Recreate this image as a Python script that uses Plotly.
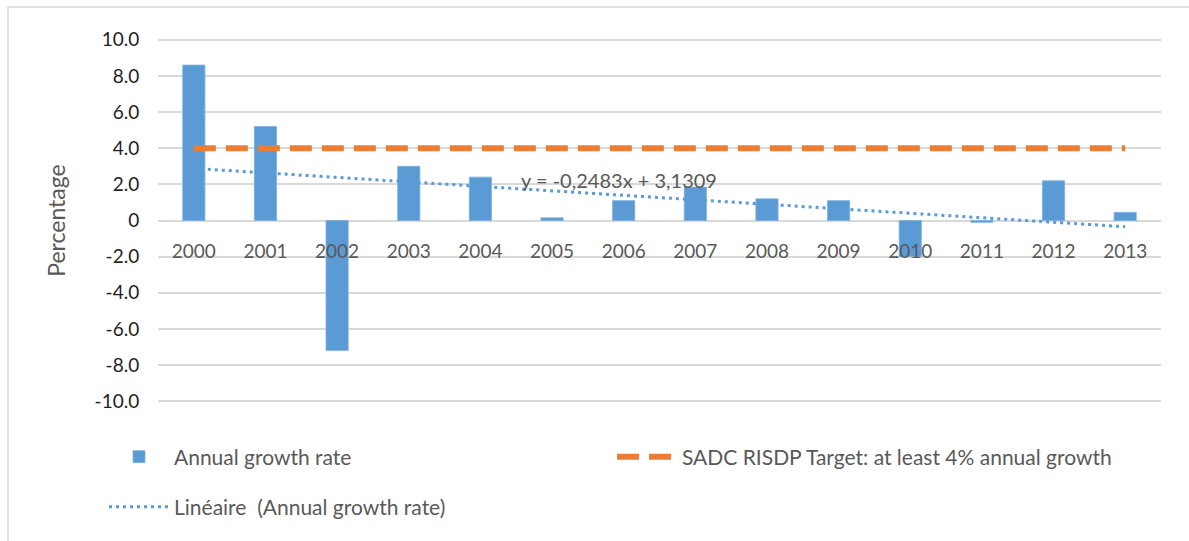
import plotly.graph_objects as go

# Annual growth rate by year (%)
years = ["2000", "2001", "2002", "2003", "2004", "2005", "2006",
         "2007", "2008", "2009", "2010", "2011", "2012", "2013"]
growth = [8.6, 5.2, -7.2, 3.0, 2.4, 0.15, 1.1, 1.85, 1.2, 1.1, -2.0, -0.1, 2.2, 0.45]

# SADC RISDP target
target = [4.0] * len(years)

# Linear trend coefficients (x = 1 for the first year)
slope = -0.2483
intercept = 3.1309
trend = [slope * (i + 1) + intercept for i in range(len(years))]
trend_label = "y = -0,2483x + 3,1309"

y_ticks = [10, 8, 6, 4, 2, 0, -2, -4, -6, -8, -10]
y_ticktext = ["10.0", "8.0", "6.0", "4.0", "2.0", "0", "-2.0", "-4.0", "-6.0", "-8.0", "-10.0"]

BLUE = "#5B9BD5"
ORANGE = "#ED7D31"
GREY_TEXT = "#595959"
FONT = "Lato, 'Open Sans', sans-serif"

W, H = 1189, 541
Y_MIN, Y_MAX = -10.1, 10.1
# plot area chosen so that +/-10 sit at y=40 and y=401
unit = 361 / 20.0
MT = int(round(40 - (Y_MAX - 10) * unit))
MB = int(round(H - (401 + (10 + Y_MIN) * -unit)))
ML, MR = 158, 28
pw, ph = W - ML - MR, H - MT - MB


def px_x(p):
    return (p - ML) / pw


def px_y(p):
    return (H - MB - p) / ph


fig = go.Figure()

fig.add_trace(go.Bar(
    x=years, y=growth, name="Annual growth rate",
    marker=dict(color=BLUE, line=dict(color="#7fb0de", width=0.8)),
    legend="legend", showlegend=True,
))

fig.add_trace(go.Scatter(
    x=years, y=target, mode="lines",
    name="SADC RISDP Target: at least 4% annual growth",
    line=dict(color=ORANGE, width=6, dash="22px,10px"),
    legend="legend2", showlegend=True,
))

fig.add_trace(go.Scatter(
    x=years, y=trend, mode="lines",
    name="Linéaire  (Annual growth rate)",
    line=dict(color=BLUE, width=3, dash="3px,4px"),
    legend="legend3", showlegend=True,
))

fig.add_annotation(
    x=5.93, y=2.24, xref="x", yref="y", text=trend_label, showarrow=False,
    font=dict(family=FONT, size=20, color=GREY_TEXT),
)

# Outer chart frame (top and left edges visible)
fig.add_shape(
    type="rect", xref="paper", yref="paper",
    x0=px_x(8), x1=px_x(1200), y0=px_y(560), y1=px_y(7),
    line=dict(color="#d9d9d9", width=1.5), fillcolor="rgba(0,0,0,0)",
    layer="below",
)

legend_font = dict(family=FONT, size=21, color=GREY_TEXT)
legend_common = dict(
    orientation="v", font=legend_font, bgcolor="rgba(0,0,0,0)",
    xanchor="left", yanchor="middle", itemwidth=60, visible=True,
)

fig.update_layout(
    width=W, height=H,
    margin=dict(l=ML, r=MR, t=MT, b=MB),
    paper_bgcolor="white", plot_bgcolor="white",
    font=dict(family=FONT, color=GREY_TEXT),
    bargap=0.69,
    showlegend=True,
    legend=dict(x=px_x(104), y=px_y(457), **legend_common),
    legend2=dict(x=px_x(612), y=px_y(457), **legend_common),
    legend3=dict(x=px_x(104), y=px_y(507), **legend_common),
    xaxis=dict(
        type="category", anchor="free", position=(0 - Y_MIN) / (Y_MAX - Y_MIN),
        showgrid=False, showline=False, zeroline=False,
        ticks="outside", ticklen=14, tickcolor="rgba(0,0,0,0)",
        tickfont=dict(family=FONT, size=19, color=GREY_TEXT),
    ),
    yaxis=dict(
        range=[Y_MIN, Y_MAX], tickvals=y_ticks, ticktext=y_ticktext,
        showgrid=True, gridcolor="#d9d9d9", gridwidth=1.5,
        zeroline=True, zerolinecolor="#d9d9d9", zerolinewidth=1.5,
        showline=False, ticks="outside", ticklen=14, tickcolor="rgba(0,0,0,0)",
        tickfont=dict(family=FONT, size=19, color="#1f1f1f"),
        title=dict(text="Percentage", standoff=22,
                   font=dict(family=FONT, size=23, color=GREY_TEXT)),
    ),
)

fig.write_html("out.html")
